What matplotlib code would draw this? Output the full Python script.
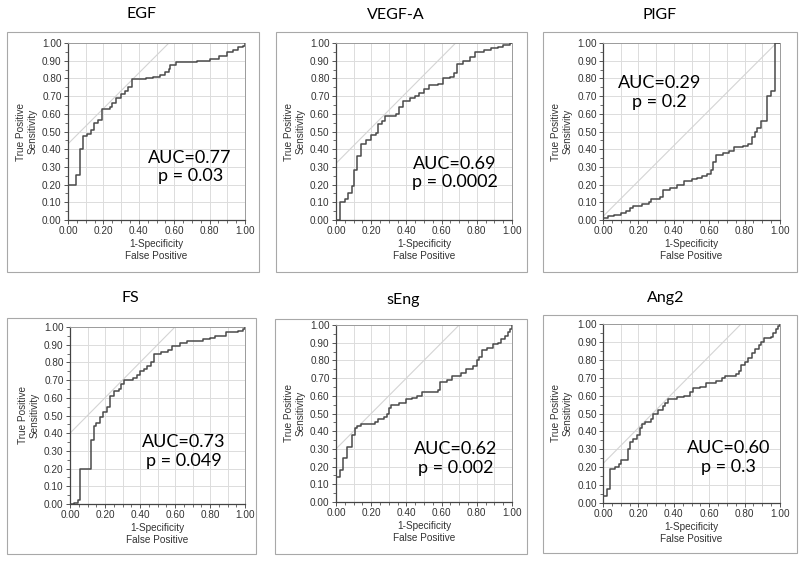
import matplotlib
matplotlib.use("Agg")
import matplotlib.pyplot as plt
from matplotlib.patches import Rectangle
from matplotlib.ticker import MultipleLocator, FormatStrFormatter

# ROC curves: each point is (fpr, tpr) where a step ends
egf_fpr = [0.0, 0.0, 0.045, 0.065, 0.085, 0.105, 0.13, 0.145, 0.17, 0.19, 0.235, 0.25, 0.27, 0.30, 0.32, 0.34, 0.36,
           0.44, 0.48, 0.52, 0.55, 0.57, 0.575, 0.61, 0.73, 0.80, 0.855, 0.90, 0.93, 0.96, 0.99, 1.0]
egf_tpr = [0.0, 0.195, 0.255, 0.40, 0.475, 0.485, 0.51, 0.55, 0.565, 0.625, 0.64, 0.66, 0.69, 0.71, 0.73, 0.75, 0.795,
           0.80, 0.81, 0.82, 0.835, 0.855, 0.875, 0.89, 0.90, 0.91, 0.925, 0.95, 0.96, 0.975, 0.985, 1.0]

vegf_fpr = [0.0, 0.02, 0.05, 0.07, 0.09, 0.10, 0.12, 0.14, 0.17, 0.20, 0.23, 0.24, 0.26, 0.28, 0.34, 0.36, 0.38, 0.42,
            0.45, 0.47, 0.50, 0.53, 0.58, 0.61, 0.65, 0.67, 0.69, 0.72, 0.76, 0.79, 0.84, 0.88, 0.92, 0.95, 0.99, 1.0]
vegf_tpr = [0.0, 0.10, 0.12, 0.15, 0.19, 0.28, 0.36, 0.43, 0.45, 0.48, 0.49, 0.54, 0.56, 0.59, 0.60, 0.64, 0.67, 0.69,
            0.70, 0.72, 0.74, 0.76, 0.77, 0.80, 0.81, 0.83, 0.88, 0.90, 0.92, 0.95, 0.96, 0.97, 0.98, 0.99, 1.0, 1.0]

plgf_fpr = [0.0, 0.0, 0.03, 0.06, 0.10, 0.13, 0.15, 0.17, 0.22, 0.26, 0.27, 0.32, 0.34, 0.38, 0.42, 0.46, 0.50, 0.53,
            0.56, 0.59, 0.61, 0.62, 0.64, 0.68, 0.71, 0.74, 0.79, 0.82, 0.84, 0.86, 0.87, 0.89, 0.925, 0.95, 0.97, 1.0]
plgf_tpr = [0.0, 0.01, 0.02, 0.03, 0.04, 0.05, 0.07, 0.08, 0.09, 0.10, 0.12, 0.13, 0.17, 0.18, 0.20, 0.22, 0.23, 0.24,
            0.25, 0.26, 0.28, 0.33, 0.37, 0.38, 0.39, 0.41, 0.42, 0.43, 0.47, 0.50, 0.52, 0.56, 0.70, 0.73, 1.0, 1.0]

fs_fpr = [0.0, 0.02, 0.045, 0.055, 0.11, 0.12, 0.135, 0.15, 0.17, 0.19, 0.21, 0.23, 0.25, 0.28, 0.29, 0.31, 0.36, 0.38,
          0.40, 0.42, 0.44, 0.46, 0.48, 0.52, 0.56, 0.58, 0.63, 0.67, 0.76, 0.80, 0.83, 0.89, 0.96, 0.99, 1.0]
fs_tpr = [0.0, 0.005, 0.02, 0.195, 0.20, 0.36, 0.44, 0.46, 0.49, 0.52, 0.55, 0.61, 0.64, 0.65, 0.68, 0.70, 0.71, 0.73,
          0.75, 0.76, 0.78, 0.80, 0.85, 0.86, 0.87, 0.89, 0.91, 0.92, 0.93, 0.94, 0.95, 0.97, 0.98, 0.99, 1.0]

seng_fpr = [0.0, 0.0, 0.02, 0.04, 0.06, 0.09, 0.11, 0.12, 0.14, 0.22, 0.24, 0.27, 0.29, 0.30, 0.31, 0.36, 0.40, 0.43,
            0.46, 0.49, 0.58, 0.59, 0.63, 0.66, 0.71, 0.74, 0.78, 0.80, 0.81, 0.83, 0.86, 0.89, 0.92, 0.94, 0.96, 0.98,
            0.99, 1.0]
seng_tpr = [0.0, 0.14, 0.18, 0.25, 0.31, 0.38, 0.42, 0.43, 0.44, 0.45, 0.47, 0.48, 0.50, 0.53, 0.55, 0.56, 0.58, 0.59,
            0.60, 0.62, 0.63, 0.68, 0.69, 0.71, 0.73, 0.75, 0.77, 0.80, 0.82, 0.86, 0.87, 0.89, 0.90, 0.92, 0.94, 0.96,
            0.98, 1.0]

ang2_fpr = [0.0, 0.0, 0.02, 0.04, 0.07, 0.09, 0.10, 0.14, 0.15, 0.17, 0.19, 0.21, 0.22, 0.24, 0.27, 0.28, 0.31, 0.34,
            0.35, 0.37, 0.42, 0.46, 0.49, 0.51, 0.55, 0.58, 0.64, 0.67, 0.69, 0.75, 0.77, 0.78, 0.80, 0.82, 0.84, 0.86,
            0.88, 0.89, 0.91, 0.95, 0.96, 0.98, 0.99, 1.0]
ang2_tpr = [0.0, 0.04, 0.08, 0.19, 0.20, 0.22, 0.24, 0.30, 0.34, 0.36, 0.38, 0.42, 0.44, 0.45, 0.47, 0.50, 0.52, 0.54,
            0.56, 0.58, 0.59, 0.60, 0.62, 0.64, 0.65, 0.67, 0.68, 0.70, 0.71, 0.72, 0.74, 0.77, 0.79, 0.81, 0.84, 0.86,
            0.88, 0.90, 0.92, 0.93, 0.95, 0.97, 0.99, 1.0]

names = ["EGF", "VEGF-A", "PlGF", "FS", "sEng", "Ang2"]
auc_labels = ["AUC=0.77", "AUC=0.69", "AUC=0.29", "AUC=0.73", "AUC=0.62", "AUC=0.60"]
p_labels = ["p = 0.03", "p = 0.0002", "p = 0.2", "p = 0.049", "p = 0.002", "p = 0.3"]
# intercept of the 45-degree tangent line drawn in each panel
tangent_c = [0.43, 0.32, 0.02, 0.40, 0.30, 0.22]
curves = [(egf_fpr, egf_tpr), (vegf_fpr, vegf_tpr), (plgf_fpr, plgf_tpr),
          (fs_fpr, fs_tpr), (seng_fpr, seng_tpr), (ang2_fpr, ang2_tpr)]

# layout in pixels (left, top, right, bottom)
axes_px = [(68, 43, 245, 220), (336, 43, 512, 220), (603, 43, 780, 220),
           (70, 327, 245, 504), (336, 325, 512, 502), (603, 324, 780, 503)]
frame_px = [(7, 32, 259, 272), (276, 32, 527, 272), (543, 32, 797, 272),
            (7, 318, 256, 554), (275, 319, 527, 554), (543, 315, 797, 553)]
title_px = [(142, 14), (396, 15), (660, 15), (130, 298), (403, 300), (666, 298)]
text_pos = [(0.69, 0.30), (0.675, 0.265), (0.32, 0.72), (0.65, 0.295), (0.68, 0.245), (0.71, 0.255)]

W, H = 800, 562
fig = plt.figure(figsize=(W / 100, H / 100), dpi=100)
fig.patch.set_facecolor("white")
plt.rcParams["font.family"] = ["Liberation Sans", "DejaVu Sans"]

tick_color = "#333333"

for i in range(6):
    l, t, r, b = frame_px[i]
    fig.patches.append(Rectangle((l / W, 1 - b / H), (r - l) / W, (b - t) / H, transform=fig.transFigure,
                                 fill=False, edgecolor="#a8a8a8", linewidth=0.8))

    l, t, r, b = axes_px[i]
    ax = fig.add_axes([l / W, 1 - b / H, (r - l) / W, (b - t) / H])
    ax.set_xlim(0, 1)
    ax.set_ylim(0, 1)

    ax.xaxis.set_major_locator(MultipleLocator(0.2))
    ax.xaxis.set_minor_locator(MultipleLocator(0.05))
    ax.yaxis.set_major_locator(MultipleLocator(0.1))
    ax.yaxis.set_minor_locator(MultipleLocator(0.05))
    ax.xaxis.set_major_formatter(FormatStrFormatter("%.2f"))
    ax.yaxis.set_major_formatter(FormatStrFormatter("%.2f"))
    ax.tick_params(which="major", labelsize=7.2, length=3, width=0.7, color="#555555", labelcolor=tick_color, pad=1.5)
    ax.tick_params(which="minor", length=2, width=0.6, color="#555555")

    for g in [k / 10 for k in range(1, 10)]:
        ax.axvline(g, color="#dcdcdc", linewidth=0.7, zorder=0)
        ax.axhline(g, color="#dcdcdc", linewidth=0.7, zorder=0)

    for side in ["top", "right"]:
        ax.spines[side].set_color("#9a9a9a")
        ax.spines[side].set_linewidth(0.7)
    for side in ["left", "bottom"]:
        ax.spines[side].set_color("#444444")
        ax.spines[side].set_linewidth(0.9)

    c = tangent_c[i]
    ax.plot([0, 1 - c], [c, 1], color="#d4d4d4", linewidth=0.8, zorder=1)

    fpr, tpr = curves[i]
    ax.plot(fpr, tpr, drawstyle="steps-post", color="#4a4a4a", linewidth=1.1, zorder=3)

    ax.set_xlabel("1-Specificity\nFalse Positive", fontsize=7.2, color=tick_color, labelpad=2, linespacing=1.2)
    ax.set_ylabel("True Positive\nSensitivity", fontsize=7.2, color=tick_color, labelpad=3, linespacing=1.2)

    tx, ty = text_pos[i]
    ax.text(tx, ty, auc_labels[i] + "\n" + p_labels[i], ha="center", va="center", fontsize=13,
            family="Lato", color="black", linespacing=1.2, zorder=4)

    x, y = title_px[i]
    fig.text(x / W, 1 - y / H, names[i], ha="center", va="center", fontsize=11.5, family="Lato", color="black")

fig.savefig("out.png", dpi=100)
